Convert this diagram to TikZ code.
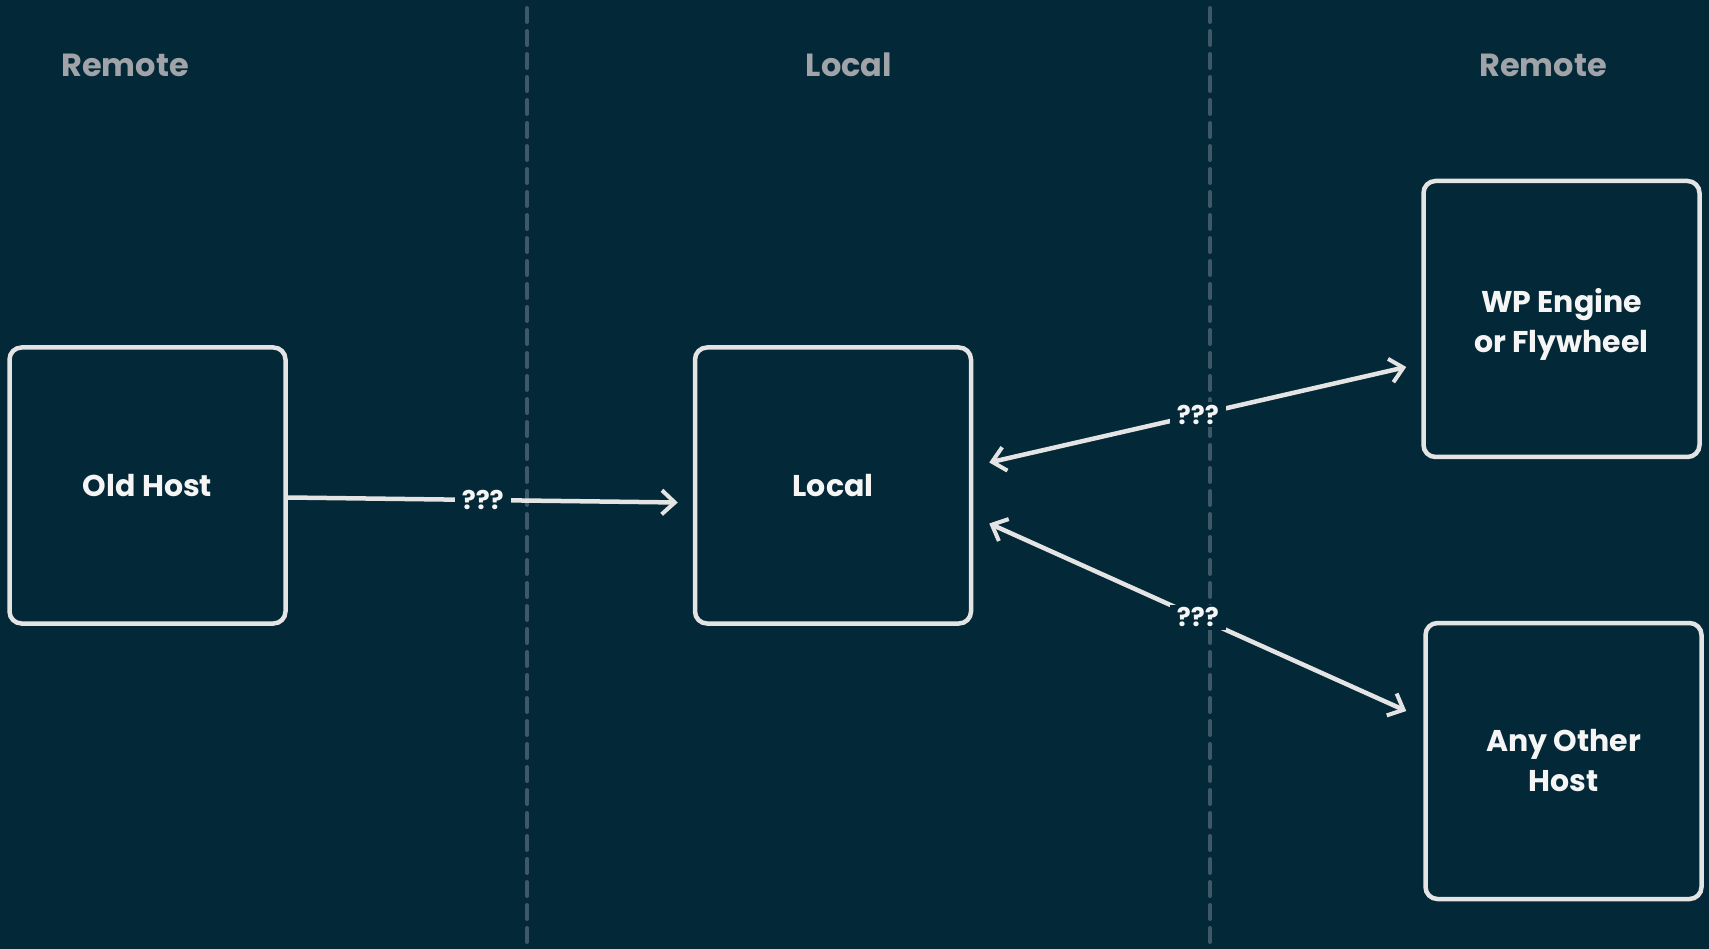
\documentclass[tikz,border=0pt]{standalone}
\usepackage{fontspec}
\setmainfont{Poppins}
\usetikzlibrary{arrows.meta,calc}
\definecolor{bg}{RGB}{3,40,56}
\definecolor{ink}{RGB}{228,228,228}
\definecolor{txt}{RGB}{245,245,245}
\definecolor{dashc}{RGB}{62,88,104}
\definecolor{title}{RGB}{160,164,168}
\tikzset{
  hostbox/.style={draw=ink, line width=4.5pt, rounded corners=12pt, minimum width=276pt, minimum height=276pt, inner sep=0pt, text=txt, font=\fontsize{30}{40}\selectfont\bfseries, align=center},
  sectiontitle/.style={text=title, font=\fontsize{32}{38}\selectfont\bfseries},
  divider/.style={dashc, line width=4pt, dash pattern=on 14pt off 9pt, line cap=round},
  conn/.style={ink, line width=4.5pt, line cap=round, -{Straight Barb[length=13pt,width=24pt,line width=4pt]}},
  biconn/.style={ink, line width=4.5pt, line cap=round, {Straight Barb[length=13pt,width=24pt,line width=4pt]}-{Straight Barb[length=13pt,width=24pt,line width=4pt]}},
  qlabel/.style={fill=bg, text=txt, inner xsep=7pt, inner ysep=3pt, font=\fontsize{26}{30}\selectfont\bfseries}
}
\begin{document}
\begin{tikzpicture}[x=1pt,y=-1pt]
\fill[bg] (0,0) rectangle (1709,949);
\useasboundingbox (0,0) rectangle (1709,949);
% dividers
\coordinate (d1t) at (527,8);
\coordinate (d1b) at (527,945);
\coordinate (d2t) at (1210,8);
\coordinate (d2b) at (1210,945);
\draw[divider] (d1t) -- (d1b);
\draw[divider] (d2t) -- (d2b);
% titles
\node[sectiontitle] (t1) at (125,65) {Remote};
\node[sectiontitle] (t2) at (849,65) {Local};
\node[sectiontitle] (t3) at (1543,65) {Remote};
% boxes
\node[hostbox] (old) at (147.5,485.5) {Old Host};
\node[hostbox] (local) at (833,485.5) {Local};
\node[hostbox] (wp) at (1561.5,319) {\parbox{260pt}{\centering\vspace*{11pt}WP Engine\\or Flywheel}};
\node[hostbox] (any) at (1563.5,761) {Any Other\\Host};
% connectors
\draw[conn] ($(old.east)+(0,12)$) -- node[qlabel, pos=0.5] {???} ($(local.west)+(-15,17)$);
\draw[biconn] ($(local.east)+(16,-23)$) -- node[qlabel, pos=0.5] {???} ($(wp.west)+(-15,48)$);
\draw[biconn] ($(local.east)+(16,38)$) -- node[qlabel, pos=0.5] {???} ($(any.west)+(-17,-50)$);
\end{tikzpicture}
\end{document}
